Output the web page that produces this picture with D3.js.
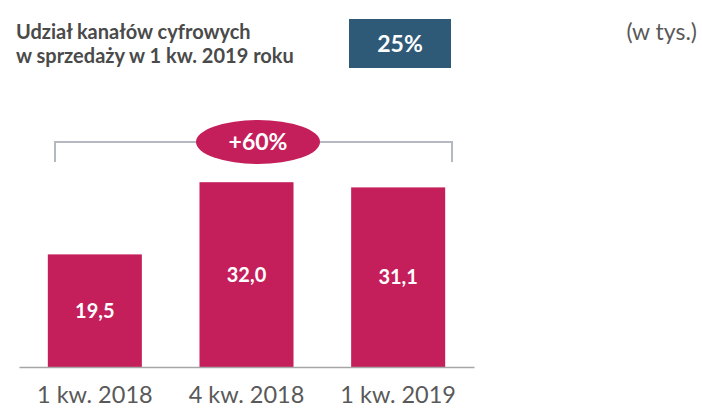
<!DOCTYPE html>
<html>
<head>
<meta charset="utf-8">
<script src="https://cdn.jsdelivr.net/npm/d3@7"></script>
<style>
  body { margin: 0; background: #fff; }
  svg { display: block; font-family: Lato, "Open Sans", sans-serif; }
</style>
</head>
<body>
<div id="chart"></div>
<script>
// data
var categories = ['1 kw. 2018', '4 kw. 2018', '1 kw. 2019'];
var values = [19.5, 32.0, 31.1];
var valueLabels = ['19,5', '32,0', '31,1'];
var titleLines = ['Udział kanałów cyfrowych', 'w sprzedaży w 1 kw. 2019 roku'];
var shareLabel = '25%';
var growthLabel = '+60%';
var unitLabel = '(w tys.)';

var W = 702, H = 409;
var baseY = 367;
var barColor = '#c51f5b';

var svg = d3.select('#chart').append('svg')
  .attr('width', W)
  .attr('height', H);

var x = d3.scaleBand()
  .domain(categories)
  .range([19, 474])
  .paddingInner(0.38)
  .paddingOuter(0.19);

var y = d3.scaleLinear()
  .domain([0, 40])
  .range([baseY, 136]);

// title, two lines
svg.selectAll('text.title')
  .data(titleLines)
  .join('text')
  .attr('class', 'title')
  .attr('x', 16)
  .attr('y', function(d, i){ return 39 + i * 24; })
  .attr('fill', '#4a4a4a')
  .style('font-size', '20px')
  .style('font-weight', 'bold')
  .text(function(d){ return d; });

// share badge
svg.append('rect')
  .attr('x', 349).attr('y', 19)
  .attr('width', 102).attr('height', 49)
  .attr('fill', '#2e5a78');
svg.append('text')
  .attr('x', 400).attr('y', 52)
  .attr('text-anchor', 'middle')
  .attr('fill', '#fff')
  .style('font-size', '23px')
  .style('font-weight', 'bold')
  .text(shareLabel);

svg.append('text')
  .attr('x', 697).attr('y', 40)
  .attr('text-anchor', 'end')
  .attr('fill', '#595959')
  .style('font-size', '23px')
  .text(unitLabel);

// bars
svg.selectAll('rect.bar')
  .data(values)
  .join('rect')
  .attr('class', 'bar')
  .attr('x', function(d, i){ return x(categories[i]); })
  .attr('y', function(d){ return y(d); })
  .attr('width', x.bandwidth())
  .attr('height', function(d){ return baseY - y(d); })
  .attr('fill', barColor);

svg.selectAll('text.val')
  .data(values)
  .join('text')
  .attr('class', 'val')
  .attr('x', function(d, i){ return x(categories[i]) + x.bandwidth() / 2; })
  .attr('y', function(d){ return (y(d) + baseY) / 2 + 7; })
  .attr('text-anchor', 'middle')
  .attr('fill', '#fff')
  .style('font-size', '20px')
  .style('font-weight', 'bold')
  .text(function(d, i){ return valueLabels[i]; });

// x axis
var xAxis = svg.append('g')
  .attr('transform', 'translate(0,' + baseY + ')')
  .call(d3.axisBottom(x).tickSize(0).tickPadding(19));
xAxis.select('.domain')
  .attr('stroke', '#a6a6a6')
  .attr('stroke-width', 1.5);
xAxis.selectAll('text')
  .attr('fill', '#595959')
  .style('font-family', 'Lato, sans-serif')
  .style('font-size', '23.5px');

// growth bracket
var bx0 = 55, bx1 = 452, by = 142;
svg.append('path')
  .attr('d', 'M' + bx0 + ',' + (by + 20) + 'V' + by + 'H' + bx1 + 'V' + (by + 20))
  .attr('fill', 'none')
  .attr('stroke', '#b3b9bf')
  .attr('stroke-width', 2);
svg.append('ellipse')
  .attr('cx', 258).attr('cy', by)
  .attr('rx', 62).attr('ry', 22)
  .attr('fill', barColor);
svg.append('text')
  .attr('x', 258).attr('y', by + 8)
  .attr('text-anchor', 'middle')
  .attr('fill', '#fff')
  .style('font-size', '23px')
  .style('font-weight', 'bold')
  .text(growthLabel);
</script>
</body>
</html>
